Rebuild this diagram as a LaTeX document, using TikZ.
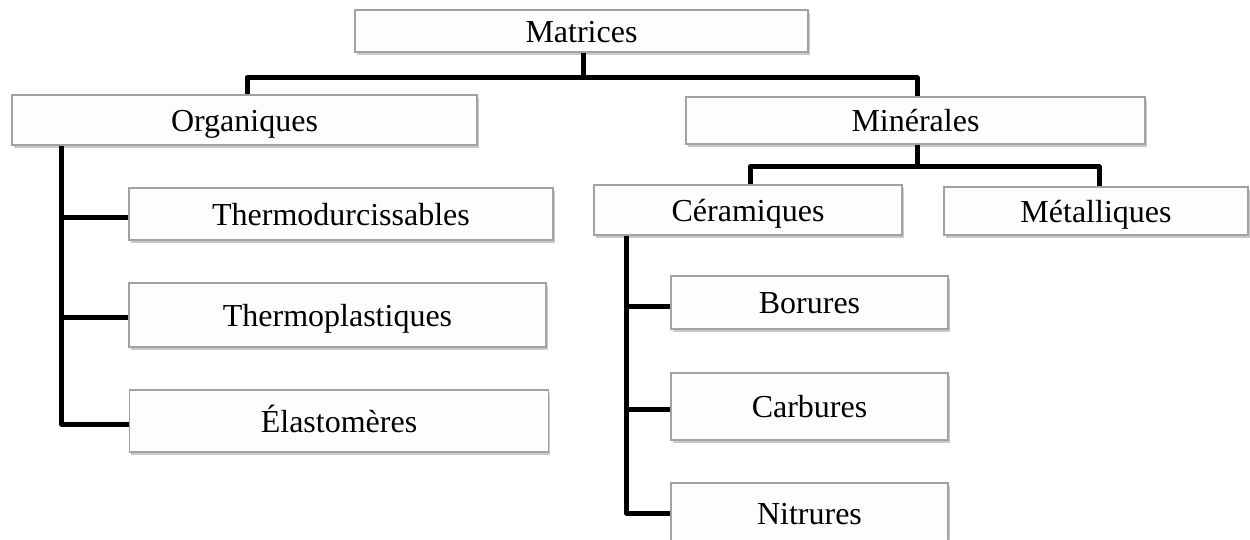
\documentclass[tikz,border=0pt]{standalone}
\usepackage{fontspec}
\setmainfont{Liberation Serif}
\usetikzlibrary{shadows}
\definecolor{boxborder}{HTML}{A2A2A2}
\definecolor{boxfill}{HTML}{FDFDFD}
\tikzset{
  box/.style={draw=boxborder, line width=1.3pt, fill=boxfill, inner sep=0pt,
    font=\fontsize{32}{35}\selectfont, text=black, text height=22pt, text depth=0pt,
    drop shadow={shadow xshift=1.5pt, shadow yshift=-2.5pt, opacity=0.35, fill=black!60}},
  link/.style={line width=5pt, black, line join=round, line cap=butt}
}
\begin{document}
\begin{tikzpicture}[x=1pt, y=-1pt]
\useasboundingbox (0,0) rectangle (1250,539);
\fill[white] (0,0) rectangle (1250,539);
% boxes
\node[box, minimum width=453pt, minimum height=42pt] (mat) at (581.5,31) {Matrices};
\node[box, minimum width=465pt, minimum height=50pt] (org) at (244.5,120) {Organiques};
\node[box, minimum width=459pt, minimum height=47pt] (min) at (915.5,120.5) {Minérales};
\node[box, minimum width=424pt, minimum height=52pt] (thd) at (341,214) {Thermodurcissables};
\node[box, minimum width=417pt, minimum height=64pt] (thp) at (337.5,315) {Thermoplastiques};
\node[box, minimum width=419pt, minimum height=62pt] (ela) at (339,421) {Élastomères};
\node[box, minimum width=308pt, minimum height=50pt] (cer) at (748,210) {Céramiques};
\node[box, minimum width=304pt, minimum height=48pt] (met) at (1096,211) {Métalliques};
\node[box, minimum width=277pt, minimum height=53pt] (bor) at (809.5,302.5) {Borures};
\node[box, minimum width=277pt, minimum height=67pt] (car) at (809.5,406.5) {Carbures};
\node[box, minimum width=277pt, minimum height=60pt] (nit) at (809.5,513) {Nitrures};
% connectors
\coordinate (mj) at ([xshift=2pt, yshift=-25pt]mat.south);
\draw[link] ([xshift=2pt]mat.south) -- (mj);
\draw[link] (mj) -| ([xshift=2.5pt]org.north);
\draw[link] (mj) -| ([xshift=1.5pt]min.north);
\coordinate (nj) at ([xshift=1.5pt, yshift=-22pt]min.south);
\draw[link] ([xshift=1.5pt]min.south) -- (nj);
\draw[link] (nj) -| ([xshift=2pt]cer.north);
\draw[link] (nj) -| ([xshift=3pt]met.north);
% organiques children
\coordinate (os) at ([xshift=50pt]org.south west);
\draw[link] (os) |- ([yshift=-3pt]ela.west);
\draw[link] (os |- thd.west) ++(0,3) -- ([yshift=-3pt]thd.west);
\draw[link] (os |- thp.west) ++(0,2) -- ([yshift=-2pt]thp.west);
% ceramiques children
\coordinate (cs) at ([xshift=33pt]cer.south west);
\draw[link] (cs) |- (nit.west);
\draw[link] (cs |- bor.west) ++(0,4) -- ([yshift=-4pt]bor.west);
\draw[link] (cs |- car.west) ++(0,3) -- ([yshift=-3pt]car.west);
\end{tikzpicture}
\end{document}
